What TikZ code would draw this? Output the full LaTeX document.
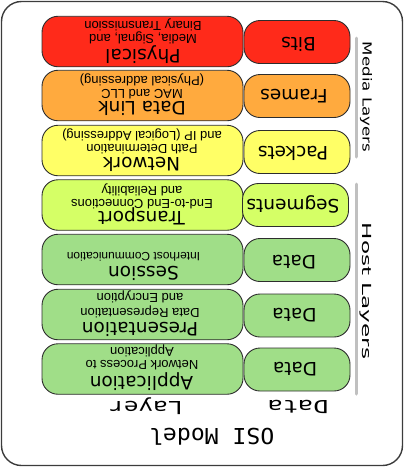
\documentclass[tikz,border=0pt]{standalone}
\usepackage{fontspec}
\newfontfamily\titlefont{DejaVu Sans}
\newfontfamily\subfont{Liberation Sans}
\newfontfamily\labelmono{DejaVu Sans Mono}
\definecolor{physred}{RGB}{255,42,26}
\definecolor{linkorange}{RGB}{255,170,62}
\definecolor{netyellow}{RGB}{255,255,102}
\definecolor{translime}{RGB}{213,255,102}
\definecolor{hostgreen}{RGB}{160,222,136}
\definecolor{boxline}{RGB}{45,45,45}
\definecolor{framegray}{RGB}{60,60,60}
\definecolor{bargray}{RGB}{192,192,192}
\begin{document}
\begin{tikzpicture}[x=1pt,y=-1pt,
  layerbox/.style={draw=boxline, line width=0.9pt, rounded corners=16pt, minimum width=201pt, minimum height=50.5pt, inner sep=0pt},
  databox/.style={draw=boxline, line width=0.9pt, rounded corners=16pt, minimum width=106pt, minimum height=43pt, inner sep=0pt},
  lname/.style={rotate=180, anchor=base, inner sep=0pt, font=\titlefont\fontsize{18.5}{20}\selectfont},
  lsub/.style={rotate=180, anchor=base, inner sep=0pt, font=\subfont\fontsize{13}{14}\selectfont},
  dname/.style={rotate=180, anchor=base, inner sep=0pt, font=\titlefont\fontsize{18.5}{20}\selectfont},
  headlabel/.style={rotate=180, anchor=base, inner sep=0pt},
  sidelabel/.style={rotate=-90, anchor=base, inner sep=0pt, font=\titlefont\fontsize{12.5}{14}\selectfont},
  sidebar/.style={draw=bargray, line width=3pt, line cap=round}
]
\useasboundingbox (0,0) rectangle (404,467);
\draw[framegray, line width=1.4pt, rounded corners=20pt] (1.5,1.5) rectangle (402.5,465.5);

% layer boxes
\node[layerbox, fill=physred]    (phys)  at (142.5,41.5)  {};
\node[layerbox, fill=linkorange] (link)  at (142.5,95.5)  {};
\node[layerbox, fill=netyellow]  (net)   at (142.5,150.5) {};
\node[layerbox, fill=translime]  (trans) at (142.5,205)   {};
\node[layerbox, fill=hostgreen]  (sess)  at (142.5,259.5) {};
\node[layerbox, fill=hostgreen]  (pres)  at (142.5,314.5) {};
\node[layerbox, fill=hostgreen]  (appl)  at (142.5,369)   {};

% data boxes
\node[databox, fill=physred]    (dphys)  at (297,42)    {};
\node[databox, fill=linkorange] (dlink)  at (297,96)    {};
\node[databox, fill=netyellow]  (dnet)   at (297,152)   {};
\node[databox, fill=translime]  (dtrans) at (295.5,205) {};
\node[databox, fill=hostgreen]  (dsess)  at (297,260)   {};
\node[databox, fill=hostgreen]  (dpres)  at (297,315.5) {};
\node[databox, fill=hostgreen]  (dappl)  at (297,369.5) {};

% layer titles and descriptions
\node[lname] (tphys) at (143,49.3) {Physical};
\node[lsub] (sphys1) at (143,34) {Media, Signal, and};
\node[lsub] (sphys2) at (143,21.4) {Binary Transmission};

\node[lname] (tlink) at (142,101) {Data Link};
\node[lsub] (slink1) at (142,89) {MAC and LLC};
\node[lsub] (slink2) at (142,76) {(Physical addressing)};

\node[lname] (tnet) at (141.5,157.5) {Network};
\node[lsub] (snet1) at (142,144.2) {Path Determination};
\node[lsub] (snet2) at (142,131.8) {and IP (Logical Addressing)};

\node[lname] (ttrans) at (141.5,211.8) {Transport};
\node[lsub] (strans1) at (142,199.3) {End-to-End Connections};
\node[lsub] (strans2) at (142,186.3) {and Reliability};

\node[lname] (tsess) at (143.5,266.6) {Session};
\node[lsub, font=\subfont\fontsize{12}{13}\selectfont] (ssess1) at (133.5,252.7) {Interhost Communication};

\node[lname] (tpres) at (140,322.5) {Presentation};
\node[lsub] (spres1) at (140,308.3) {Data Representation};
\node[lsub] (spres2) at (140,293.7) {and Encryption};

\node[lname] (tappl) at (141.5,376) {Application};
\node[lsub] (sappl1) at (142,360.7) {Network Process to};
\node[lsub] (sappl2) at (142,347.4) {Application};

% data unit names
\node[dname] (ndphys)  at (298.5,37.6)  {Bits};
\node[dname] (ndlink)  at (294,89.3)    {Frames};
\node[dname] (ndnet)   at (293,146.8)   {Packets};
\node[dname] (ndtrans) at (293,199.3)   {Segments};
\node[dname] (ndsess)  at (294,255.1)   {Data};
\node[dname] (ndpres)  at (294.5,308.5) {Data};
\node[dname] (ndappl)  at (295,362.6)   {Data};

% column headings and title
\node[headlabel, font=\labelmono\fontsize{18}{20}\selectfont] (hlayer) at (146,401.7) {\scalebox{1.35}[1]{Layer}};
\node[headlabel, font=\labelmono\fontsize{18}{20}\selectfont] (hdata) at (298,400.5) {\scalebox{1.4}[1]{Data}};
\node[headlabel, font=\labelmono\fontsize{22}{24}\selectfont] (htitle) at (211.7,428.5) {\scalebox{1.05}[1]{OSI Model}};

% side bars and labels
\coordinate (mtop) at (356,38);
\coordinate (mbot) at (356,157);
\coordinate (htop) at (356,184);
\coordinate (hbot) at (356,394);
\draw[sidebar] (mtop) -- (mbot);
\draw[sidebar] (htop) -- (hbot);
\node[sidelabel] (lmedia) at (362.5,97) {\scalebox{1.33}[1]{Media Layers}};
\node[sidelabel] (lhost) at (362.5,291) {\scalebox{1.85}[1]{Host Layers}};
\end{tikzpicture}
\end{document}
